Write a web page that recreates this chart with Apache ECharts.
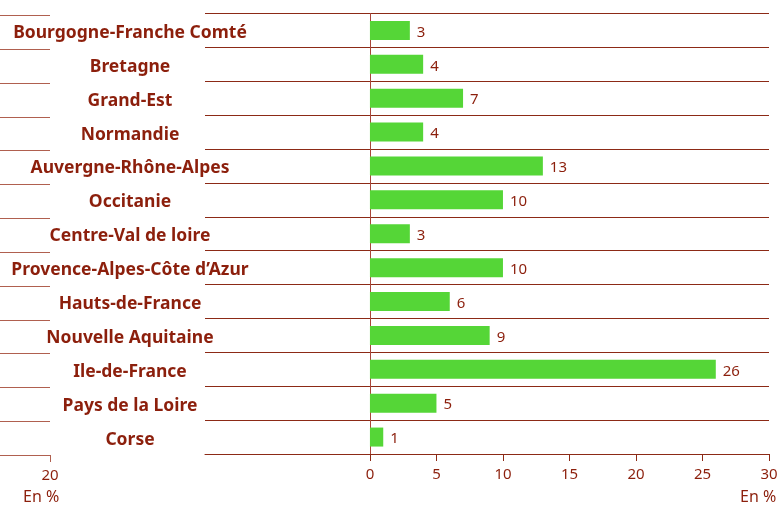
<!DOCTYPE html>
<html>
<head>
<meta charset="utf-8">
<script src="https://cdn.jsdelivr.net/npm/echarts@6/dist/echarts.min.js"></script>
<style>
  html, body { margin: 0; padding: 0; background: #fff; }
  #chart { width: 783px; height: 507px; }
</style>
</head>
<body>
<div id="chart"></div>
<script>
// regions, top to bottom
const regions = [
    'Bourgogne-Franche Comté', 'Bretagne', 'Grand-Est', 'Normandie',
    'Auvergne-Rhône-Alpes', 'Occitanie', 'Centre-Val de loire',
    'Provence-Alpes-Côte d’Azur', 'Hauts-de-France', 'Nouvelle Aquitaine',
    'Ile-de-France', 'Pays de la Loire', 'Corse'
];
const shares = [3, 4, 7, 4, 13, 10, 3, 10, 6, 9, 26, 5, 1];
const xTicks = [0, 5, 10, 15, 20, 25, 30];
const leftTicks = [20];

const red = '#8c1f0c';
const lineRed = '#8c2a16';
const green = '#55d637';
const font = '"Noto Sans", sans-serif';

let myChart = echarts.init(document.getElementById('chart'));
myChart.setOption({
    animation: false,
    grid: [
        {left: 205, right: 14, top: 13.5, bottom: 53, outerBoundsMode: 'none', containLabel: false},
        {left: -200, width: 250, top: 15.5, bottom: 52, outerBoundsMode: 'none', containLabel: false}
    ],
    xAxis: [{
        gridIndex: 0,
        type: 'value',
        min: -12.4,
        max: 30,
        splitLine: {show: false},
        axisLine: {show: true, lineStyle: {color: lineRed, width: 1}},
        axisTick: {show: true, customValues: xTicks, length: 7, lineStyle: {color: lineRed}},
        axisLabel: {customValues: xTicks, color: red, fontSize: 15, fontFamily: font, margin: 13}
    }, {
        gridIndex: 1,
        type: 'value',
        min: 20,
        max: 70,
        inverse: true,
        splitLine: {show: false},
        axisLine: {show: true, lineStyle: {color: '#b0604f', width: 1}},
        axisTick: {show: true, customValues: leftTicks, length: 7, lineStyle: {color: '#b0604f'}},
        axisLabel: {customValues: leftTicks, color: red, fontSize: 15, fontFamily: font, margin: 13}
    }],
    yAxis: [{
        gridIndex: 0,
        type: 'category',
        data: regions,
        inverse: true,
        axisLine: {show: true, onZero: true, lineStyle: {color: '#a8463a', width: 1}},
        axisTick: {show: false},
        splitLine: {show: true, lineStyle: {color: lineRed, width: 1}},
        axisLabel: {
            align: 'center',
            verticalAlign: 'top',
            lineHeight: 5,
            margin: 75,
            color: red,
            fontSize: 17.5,
            fontWeight: 'bold',
            fontFamily: font
        }
    }, {
        gridIndex: 1,
        type: 'category',
        data: regions,
        inverse: true,
        axisLine: {show: false},
        axisTick: {show: false},
        axisLabel: {show: false},
        splitLine: {show: true, lineStyle: {color: '#b0604f', width: 1}}
    }],
    graphic: [
        {type: 'text', left: 740, top: 489, style: {text: 'En %', fill: red, fontSize: 16, fontFamily: font}},
        {type: 'text', left: 23, top: 489, style: {text: 'En %', fill: red, fontSize: 16, fontFamily: font}}
    ],
    series: [{
        type: 'bar',
        xAxisIndex: 0,
        yAxisIndex: 0,
        data: shares,
        barWidth: 19,
        itemStyle: {color: green},
        label: {
            show: true,
            position: 'right',
            distance: 7,
            offset: [0, 2],
            color: red,
            fontSize: 15,
            fontFamily: font
        }
    }]
});
</script>
</body>
</html>
